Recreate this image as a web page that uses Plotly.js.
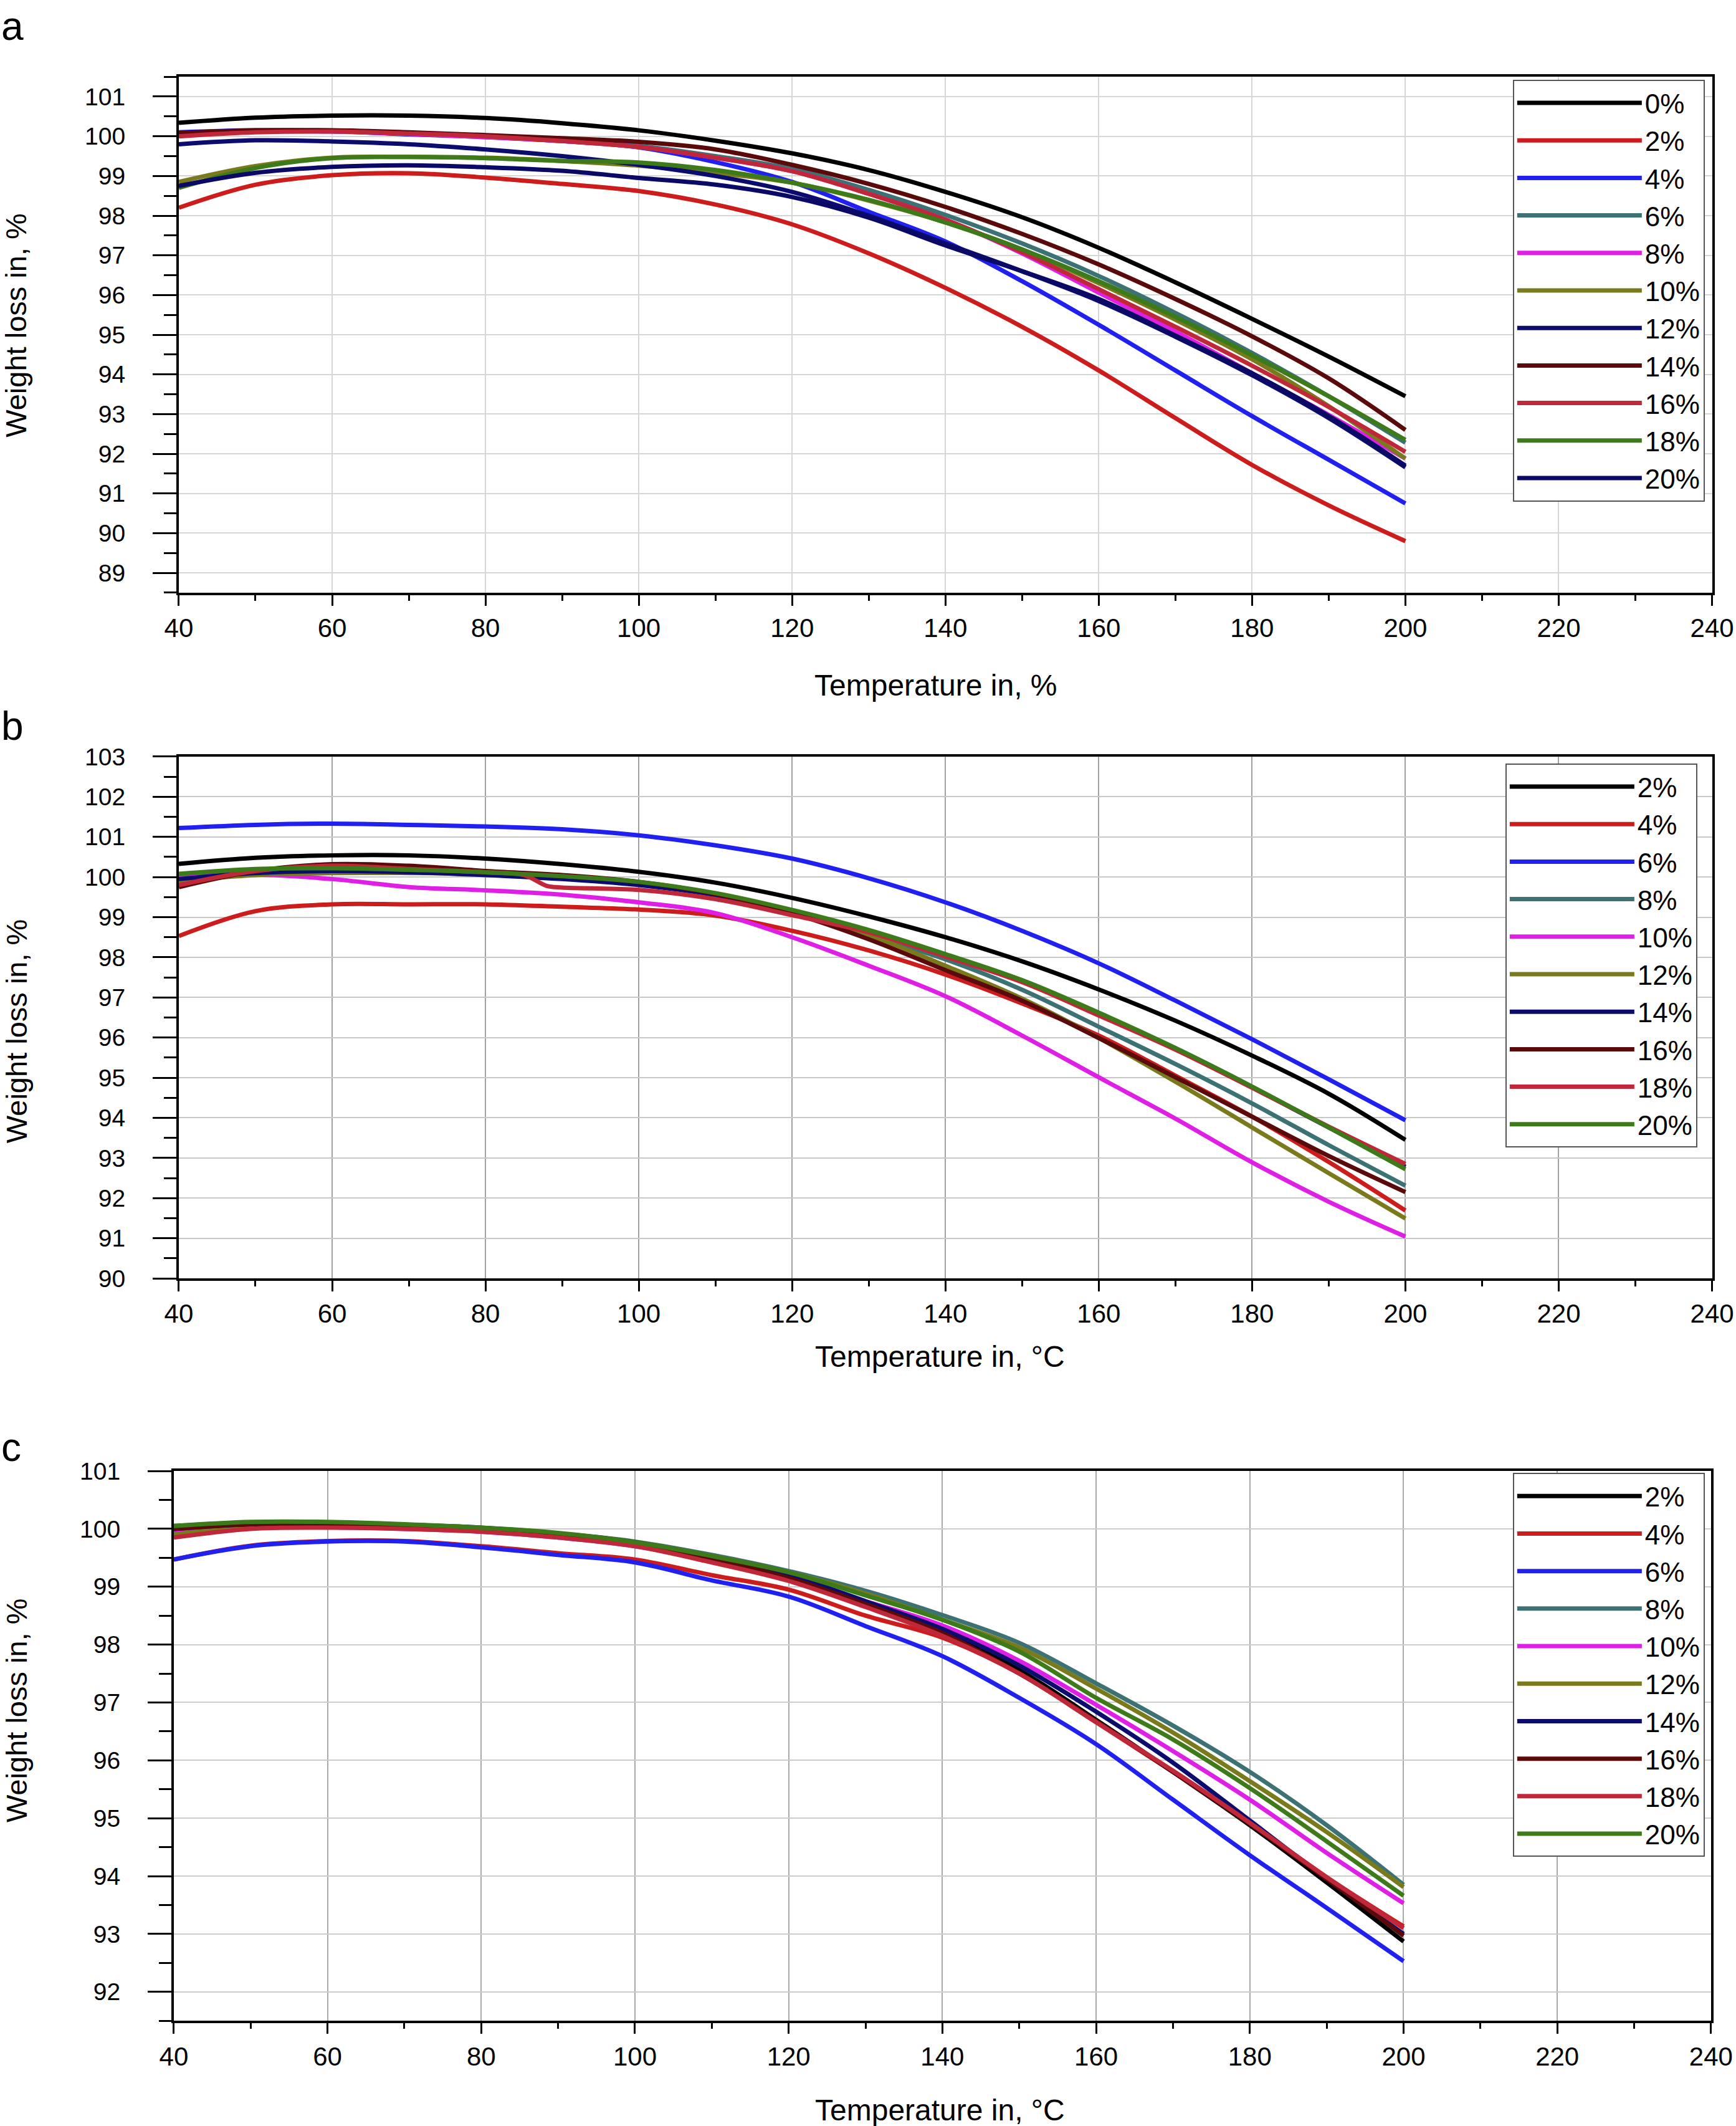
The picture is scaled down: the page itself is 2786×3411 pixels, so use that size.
<!DOCTYPE html>
<html>
<head>
<meta charset="utf-8">
<script src="https://cdn.plot.ly/plotly-3.0.1.min.js"></script>
<style>
  html, body { margin: 0; padding: 0; background: #fff; }
  #chart { width: 2786px; height: 3411px; }
</style>
</head>
<body>
<div id="chart"></div>
<script>
// TGA curves, three panels (a, b, c) – weight loss vs temperature

// ---- data ----
const temps = [40, 50, 60, 70, 80, 90, 100, 110, 120, 130, 140, 150, 160, 170, 180, 190, 200];
const tempsB18 = [40, 50, 60, 70, 80, 85, 88, 90, 100, 110, 120, 130, 140, 150, 160, 170, 180, 190, 200];

const labelsA = ["0%", "2%", "4%", "6%", "8%", "10%", "12%", "14%", "16%", "18%", "20%"];
const labelsBC = ["2%", "4%", "6%", "8%", "10%", "12%", "14%", "16%", "18%", "20%"];

// panel a
const a0  = [100.34, 100.47, 100.52, 100.52, 100.46, 100.33, 100.15, 99.89, 99.57, 99.15, 98.6, 97.96, 97.19, 96.32, 95.4, 94.45, 93.45];
const a2  = [98.2, 98.78, 99.02, 99.07, 98.96, 98.8, 98.62, 98.28, 97.78, 97.05, 96.18, 95.2, 94.1, 92.9, 91.72, 90.7, 89.8];
const a4  = [100.1, 100.15, 100.13, 100.05, 99.98, 99.88, 99.72, 99.35, 98.85, 98.1, 97.35, 96.35, 95.25, 94.1, 92.95, 91.85, 90.75];
const a6  = [100.05, 100.13, 100.13, 100.08, 100.0, 99.9, 99.76, 99.5, 99.18, 98.65, 98.02, 97.3, 96.48, 95.55, 94.54, 93.45, 92.28];
const a8  = [100.05, 100.12, 100.12, 100.06, 99.98, 99.88, 99.73, 99.46, 99.12, 98.55, 97.9, 97.05, 96.06, 95.08, 94.03, 92.98, 91.88];
const a10 = [98.85, 99.25, 99.46, 99.48, 99.46, 99.38, 99.26, 99.08, 98.83, 98.38, 97.83, 97.15, 96.3, 95.38, 94.38, 93.2, 91.88];
const a12 = [99.8, 99.9, 99.87, 99.8, 99.67, 99.5, 99.28, 99.0, 98.6, 98.0, 97.3, 96.6, 95.85, 94.95, 93.98, 92.9, 91.66];
const a14 = [100.08, 100.15, 100.15, 100.1, 100.03, 99.95, 99.86, 99.67, 99.28, 98.8, 98.22, 97.54, 96.77, 95.9, 94.96, 93.9, 92.6];
const a16 = [100.0, 100.1, 100.12, 100.07, 100.0, 99.88, 99.73, 99.46, 99.12, 98.55, 97.9, 97.08, 96.15, 95.2, 94.22, 93.18, 92.05];
const a18 = [98.7, 99.2, 99.45, 99.48, 99.45, 99.38, 99.34, 99.15, 98.83, 98.4, 97.83, 97.15, 96.35, 95.45, 94.48, 93.45, 92.35];
const a20 = [98.75, 99.08, 99.23, 99.27, 99.22, 99.13, 98.95, 98.78, 98.47, 97.95, 97.25, 96.6, 95.9, 94.98, 94.03, 92.95, 91.7];

// panel b
const b2  = [100.33, 100.48, 100.54, 100.54, 100.46, 100.32, 100.13, 99.86, 99.48, 99.02, 98.5, 97.9, 97.2, 96.42, 95.55, 94.6, 93.45];
const b4  = [98.53, 99.15, 99.32, 99.32, 99.32, 99.26, 99.19, 99.04, 98.66, 98.17, 97.57, 96.85, 96.05, 95.05, 94.03, 92.9, 91.69];
const b6  = [101.22, 101.3, 101.33, 101.3, 101.26, 101.19, 101.04, 100.79, 100.46, 99.97, 99.37, 98.66, 97.85, 96.92, 95.96, 94.96, 93.94];
const b8  = [100.0, 100.1, 100.15, 100.12, 100.08, 100.0, 99.85, 99.55, 99.1, 98.55, 97.95, 97.19, 96.27, 95.34, 94.36, 93.32, 92.31];
const b10 = [99.97, 100.06, 99.95, 99.75, 99.67, 99.56, 99.37, 99.1, 98.5, 97.79, 97.03, 96.05, 95.01, 93.98, 92.89, 91.91, 91.04];
const b12 = [99.9, 100.05, 100.1, 100.1, 100.08, 100.0, 99.85, 99.55, 99.08, 98.55, 97.79, 96.97, 95.99, 94.9, 93.76, 92.62, 91.49];
const b14 = [99.95, 100.1, 100.15, 100.12, 100.05, 99.95, 99.8, 99.55, 99.12, 98.66, 98.06, 97.41, 96.59, 95.72, 94.76, 93.76, 92.78];
const b16 = [99.75, 100.15, 100.32, 100.28, 100.15, 100.05, 99.88, 99.58, 99.1, 98.45, 97.68, 96.92, 95.99, 95.01, 94.03, 93.05, 92.15];
const b18 = [99.8, 100.15, 100.28, 100.2, 100.12, 100.05, 99.78, 99.74, 99.68, 99.45, 99.05, 98.62, 98.02, 97.38, 96.55, 95.7, 94.75, 93.78, 92.85];
const b20 = [100.08, 100.2, 100.22, 100.18, 100.12, 100.02, 99.88, 99.6, 99.18, 98.68, 98.08, 97.43, 96.62, 95.74, 94.78, 93.76, 92.72];

// panel c
const c2  = [100.0, 100.08, 100.08, 100.05, 100.0, 99.9, 99.75, 99.5, 99.18, 98.72, 98.2, 97.56, 96.7, 95.8, 94.88, 93.89, 92.87];
const c4  = [99.47, 99.71, 99.79, 99.79, 99.7, 99.58, 99.47, 99.2, 98.95, 98.5, 98.12, 97.5, 96.66, 95.8, 94.92, 93.98, 93.13];
const c6  = [99.47, 99.7, 99.78, 99.78, 99.68, 99.55, 99.42, 99.11, 98.83, 98.32, 97.8, 97.08, 96.28, 95.32, 94.36, 93.45, 92.53];
const c8  = [100.05, 100.11, 100.11, 100.07, 100.01, 99.92, 99.78, 99.55, 99.27, 98.93, 98.51, 98.03, 97.33, 96.6, 95.8, 94.88, 93.85];
const c10 = [99.95, 100.03, 100.03, 100.0, 99.95, 99.85, 99.7, 99.45, 99.15, 98.75, 98.33, 97.72, 96.96, 96.16, 95.32, 94.4, 93.53];
const c12 = [99.9, 100.05, 100.1, 100.07, 100.01, 99.92, 99.77, 99.53, 99.25, 98.88, 98.43, 97.95, 97.24, 96.48, 95.64, 94.76, 93.81];
const c14 = [100.0, 100.08, 100.1, 100.07, 100.02, 99.92, 99.77, 99.5, 99.2, 98.75, 98.27, 97.64, 96.84, 95.96, 94.96, 93.95, 93.0];
const c16 = [100.0, 100.08, 100.08, 100.05, 100.0, 99.9, 99.75, 99.48, 99.15, 98.7, 98.2, 97.5, 96.68, 95.8, 94.9, 93.95, 92.97];
const c18 = [99.85, 100.0, 100.02, 100.0, 99.95, 99.85, 99.7, 99.42, 99.1, 98.65, 98.15, 97.5, 96.66, 95.82, 94.92, 93.98, 93.1];
const c20 = [100.05, 100.12, 100.12, 100.08, 100.02, 99.93, 99.77, 99.53, 99.25, 98.85, 98.43, 97.88, 97.08, 96.36, 95.52, 94.6, 93.66];

// ---- styling ----
const FONT = "Liberation Sans, Arial, Helvetica, sans-serif";
const colorsA = ["#000000", "#cc1c1c", "#2020f0", "#3d7275", "#e01fe6", "#787a1c", "#0c0c6e", "#5a0a0a", "#c0283a", "#3c7a1a", "#0a0a66"];
const colorsBC = ["#000000", "#cc1c1c", "#2020f0", "#3d7275", "#e01fe6", "#787a1c", "#0c0c6e", "#5a0a0a", "#c0283a", "#3c7a1a"];

const seriesA = [a0, a2, a4, a6, a8, a10, a12, a14, a16, a18, a20];
const seriesB = [b2, b4, b6, b8, b10, b12, b14, b16, b18, b20];
const seriesC = [c2, c4, c6, c8, c10, c12, c14, c16, c18, c20];

function makeTraces(series, labels, colors, axisN, legendName, xFor) {
    return series.map((ys, i) => ({
        x: xFor ? xFor(i) : temps,
        y: ys,
        type: "scatter",
        mode: "lines",
        name: labels[i],
        xaxis: axisN === 1 ? "x" : "x" + axisN,
        yaxis: axisN === 1 ? "y" : "y" + axisN,
        legend: legendName,
        line: { color: colors[i], width: 7, shape: "spline", smoothing: 1 }
    }));
}

const traces = [].concat(
    makeTraces(seriesA, labelsA, colorsA, 1, "legend"),
    makeTraces(seriesB, labelsBC, colorsBC, 2, "legend2", (i) => (i === 8 ? tempsB18 : temps)),
    makeTraces(seriesC, labelsBC, colorsBC, 3, "legend3")
);

function xAxis(domain, anchor, gridcolor) {
    return {
        domain: domain, anchor: anchor,
        range: [40, 240], tick0: 40, dtick: 20,
        ticks: "outside", ticklen: 17, tickwidth: 3, tickcolor: "#000",
        ticklabeloverflow: "allow",
        minor: { dtick: 10, ticks: "outside", ticklen: 9, tickwidth: 3, tickcolor: "#000", showgrid: false },
        showgrid: true, gridcolor: gridcolor, gridwidth: 2,
        showline: true, linecolor: "#000", linewidth: 4, mirror: true,
        zeroline: false,
        tickfont: { family: FONT, size: 42, color: "#000" }
    };
}

function yAxis(domain, anchor, range, gridcolor) {
    return {
        domain: domain, anchor: anchor,
        range: range, tick0: 90, dtick: 1,
        ticks: "outside", ticklen: 38, tickwidth: 3, tickcolor: "#000",
        ticklabelstandoff: 36,
        minor: { dtick: 0.5, ticks: "outside", ticklen: 20, tickwidth: 3, tickcolor: "#000", showgrid: false },
        showgrid: true, gridcolor: gridcolor, gridwidth: 2,
        showline: true, linecolor: "#000", linewidth: 4, mirror: true,
        zeroline: false,
        tickfont: { family: FONT, size: 39, color: "#000" }
    };
}

function legendBox(xRight, yTop) {
    return {
        x: xRight, y: yTop, xanchor: "right", yanchor: "top",
        bgcolor: "#fff", bordercolor: "#555", borderwidth: 2,
        font: { family: FONT, size: 44, color: "#000" },
        itemwidth: 200, tracegroupgap: 0, traceorder: "normal"
    };
}

const txt = (text, x, y, size, extra) => Object.assign({
    text: text, x: x, y: y, xref: "paper", yref: "paper",
    showarrow: false, font: { family: FONT, size: size, color: "#000" }
}, extra || {});

const layout = {
    width: 2786, height: 3411,
    margin: { l: 0, r: 0, t: 0, b: 0 },
    paper_bgcolor: "#fff", plot_bgcolor: "#fff",
    showlegend: true,
    xaxis: xAxis([0.1030, 0.9862], "y", "#d6d6d6"),
    yaxis: yAxis([0.7212, 0.9639], "x", [88.5, 101.5], "#d6d6d6"),
    xaxis2: xAxis([0.1030, 0.9862], "y2", "#a0a0a0"),
    yaxis2: yAxis([0.3987, 0.6441], "x2", [90, 103], "#c8c8c8"),
    xaxis3: xAxis([0.1001, 0.9856], "y3", "#a8a8a8"),
    yaxis3: yAxis([0.0495, 0.3081], "x3", [91.5, 101], "#cccccc"),
    legend: legendBox(0.9820, 0.9625),
    legend2: legendBox(0.9777, 0.6409),
    legend3: legendBox(0.9820, 0.3072),
    annotations: [
        txt("a", 0.0, 0.9877, 64, { xanchor: "left", yanchor: "middle" }),
        txt("b", 0.0, 0.6585, 64, { xanchor: "left", yanchor: "middle" }),
        txt("c", 0.0, 0.3193, 64, { xanchor: "left", yanchor: "middle" }),
        txt("Temperature in, %", 0.539, 0.6778, 48, { xanchor: "center", yanchor: "middle" }),
        txt("Temperature in, °C", 0.5416, 0.3618, 48, { xanchor: "center", yanchor: "middle" }),
        txt("Temperature in, °C", 0.5416, 0.0075, 48, { xanchor: "center", yanchor: "middle" }),
        txt("Weight loss in, %", 0.0093, 0.847, 47, { textangle: -90, xanchor: "center", yanchor: "middle" }),
        txt("Weight loss in, %", 0.0093, 0.515, 47, { textangle: -90, xanchor: "center", yanchor: "middle" }),
        txt("Weight loss in, %", 0.0093, 0.1955, 47, { textangle: -90, xanchor: "center", yanchor: "middle" })
    ]
};

Plotly.newPlot("chart", traces, layout, { displayModeBar: false, staticPlot: true });
</script>
</body>
</html>
